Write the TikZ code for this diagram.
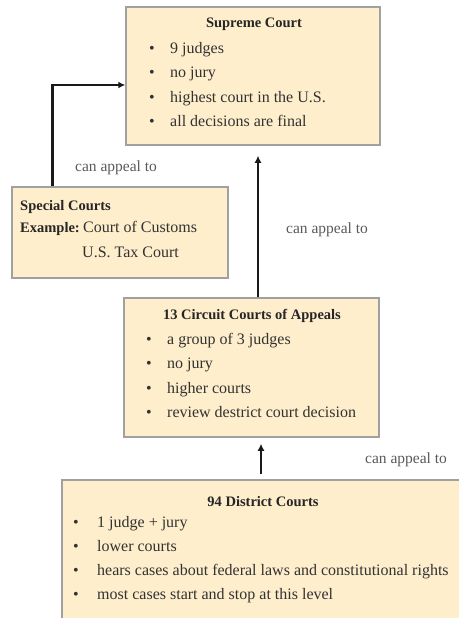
\documentclass[tikz,border=0pt]{standalone}
\usepackage{fontspec}
\setmainfont{Liberation Serif}
\usepackage{xcolor}
\usepackage{tikz}
\usetikzlibrary{
	arrows.meta,
	calc,
	positioning
}
\definecolor{boxfill}{RGB}{254,238,204}
\definecolor{boxline}{RGB}{160,160,160}
\definecolor{inktext}{RGB}{50,50,50}
\definecolor{inkline}{RGB}{25,25,25}
\tikzset{
	courtbox/.style={draw=boxline, fill=boxfill, line width=1.5pt, inner sep=0pt},
	headtxt/.style={anchor=base, inner sep=0pt, text=black!85, font=\fontsize{14.5}{16}\selectfont\bfseries},
	item/.style={anchor=base west, inner sep=0pt, text=inktext, font=\fontsize{16}{18}\selectfont},
	bulletmark/.style={anchor=base, inner sep=0pt, text=black!80, font=\fontsize{16}{18}\selectfont},
	appealtxt/.style={inner sep=0pt, text=black!65, font=\fontsize{15.5}{18}\selectfont},
	appeal/.style={draw=inkline, line width=2.5pt, -{Latex[length=7pt,width=7pt]}}
}

\begin{document}
\begin{tikzpicture}[x=1pt, y=-1pt]
		\useasboundingbox (0,0) rectangle (458,618);
		% boxes
		\node[courtbox, minimum width=254pt, minimum height=138pt] (sup) at (253,76) {};
		\node[courtbox, minimum width=216pt, minimum height=91pt] (spec) at (120,232.5) {};
		\node[courtbox, minimum width=255pt, minimum height=139pt] (circ) at (251.5,367.5) {};
		\node[courtbox, minimum width=400pt, minimum height=142pt] (dist) at (262,551) {};
		% supreme court
		\node[headtxt] (sup-head) at (254,28) {Supreme Court};
		\foreach \txt [count=\i] in {9 judges, no jury, highest court in the U.S., all decisions are final}{
			\node[bulletmark] (sup-b\i) at (152,{28.5+24.5*\i}) {\textbullet};
			\node[item] (sup-t\i) at (170,{28.5+24.5*\i}) {\txt};
		}
		% special courts
		\node[headtxt, anchor=base west] (spec-head) at (20,210) {Special Courts};
		\node[headtxt, anchor=base west] (spec-ex) at (20,232) {Example:};
		\node[item] (spec-t1) at (83,232) {Court of Customs};
		\node[item] (spec-t2) at (82,257) {U.S. Tax Court};
		% circuit courts
		\node[headtxt] (circ-head) at (252,319) {13 Circuit Courts of Appeals};
		\foreach \txt [count=\i] in {a group of 3 judges, no jury, higher courts, review destrict court decision}{
			\node[bulletmark] (circ-b\i) at (149,{320.5+24.2*\i}) {\textbullet};
			\node[item] (circ-t\i) at (167,{320.5+24.2*\i}) {\txt};
		}
		% district courts
		\node[headtxt] (dist-head) at (263,506) {94 District Courts};
		\foreach \txt [count=\i] in {1 judge + jury, lower courts, hears cases about federal laws and constitutional rights, most cases start and stop at this level}{
			\node[bulletmark] (dist-b\i) at (76,{503+24*\i}) {\textbullet};
			\node[item] (dist-t\i) at (97,{503+24*\i}) {\txt};
		}
		% appeals
		\coordinate (specout) at ($(spec.north west)+(41,0)$);
		\coordinate (circout) at ($(circ.north)+(6.5,0)$);
		\coordinate (distout) at ($(dist.north)+(-1,0)$);
		\draw[appeal] (specout) |- ($(sup.west)+(0,9)$);
		\draw[appeal, shorten >=10pt] (circout) -- (circout |- sup.south);
		\draw[appeal, shorten <=5pt, shorten >=6pt] (distout) -- (distout |- circ.south);
		\node[appealtxt] (lab-spec) at (116,168) {can appeal to};
		\node[appealtxt] (lab-circ) at (327,230) {can appeal to};
		\node[appealtxt] (lab-dist) at (406,460) {can appeal to};
	\end{tikzpicture}
\end{document}
